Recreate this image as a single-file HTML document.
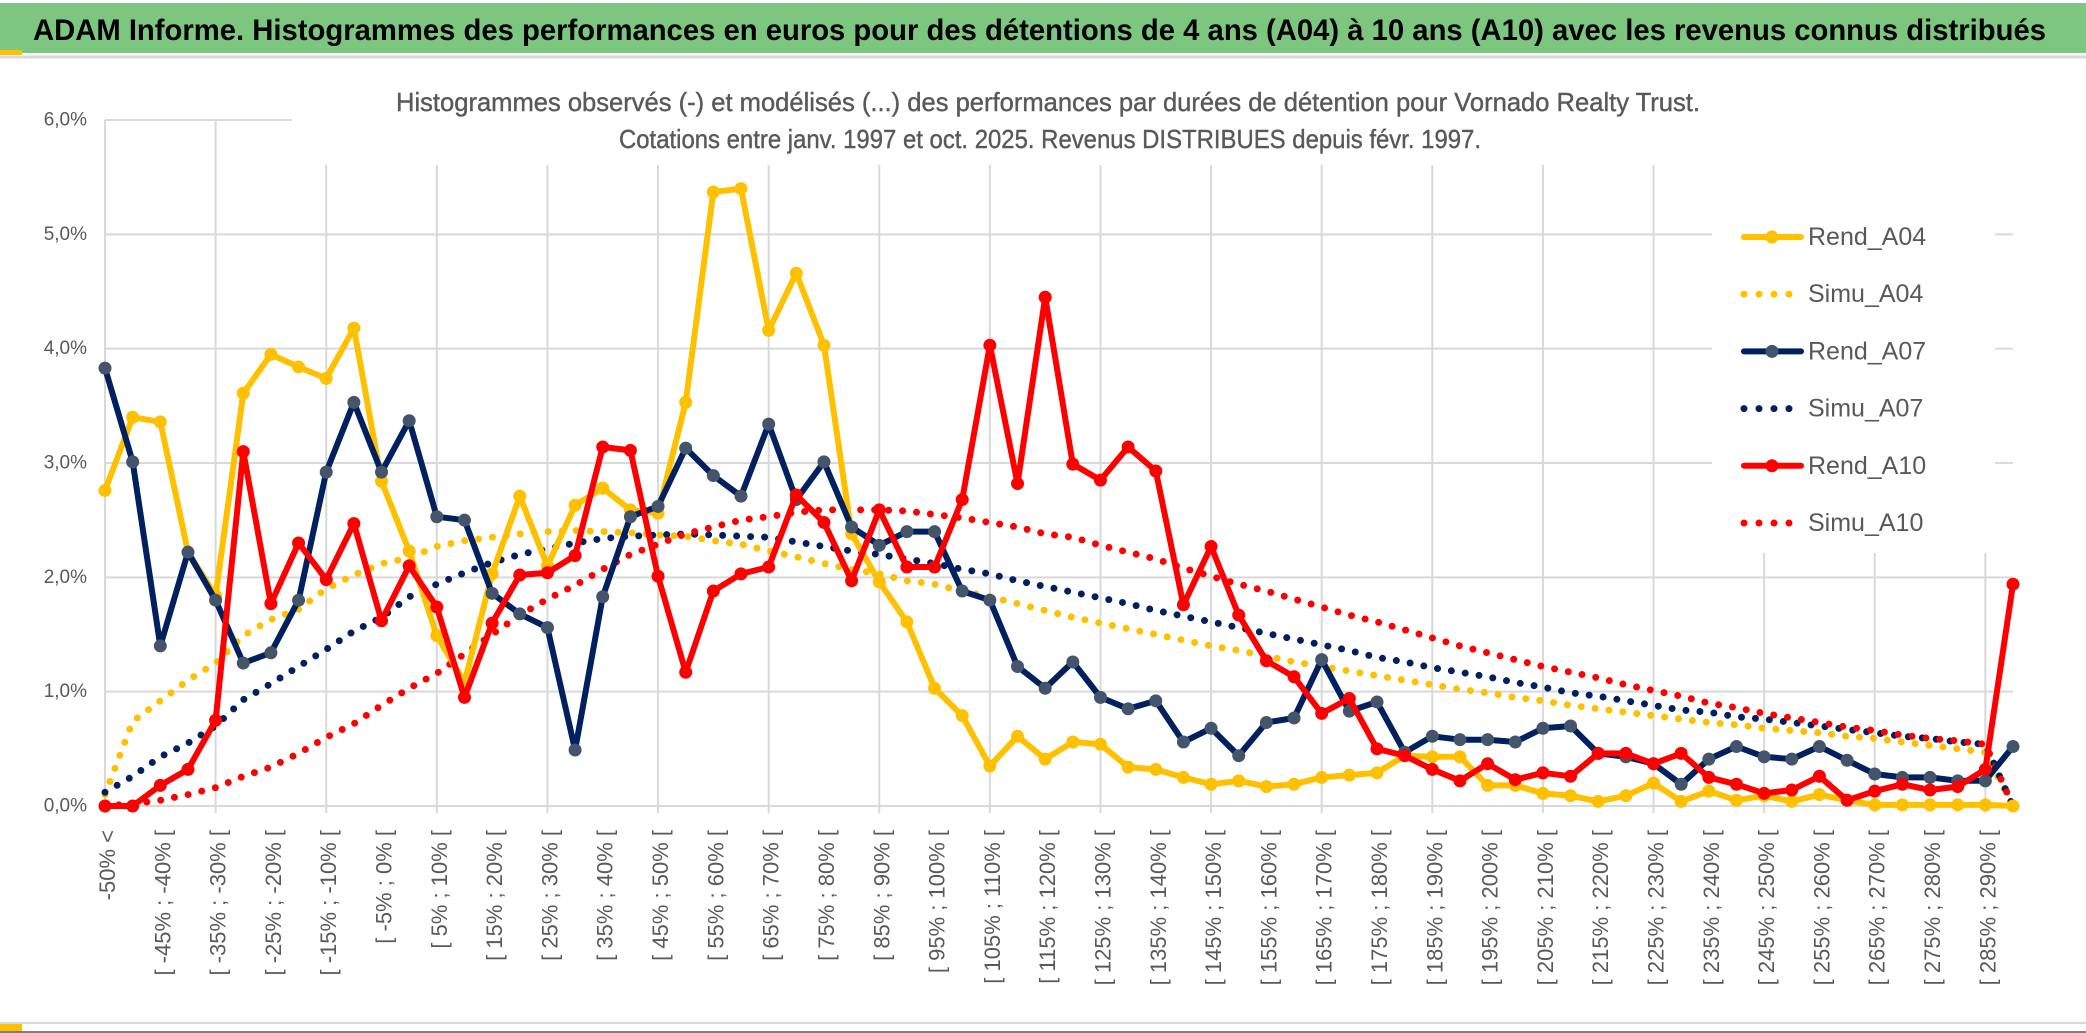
<!DOCTYPE html>
<html><head><meta charset="utf-8"><style>
html,body{margin:0;padding:0;background:#fff;}
svg{display:block;font-family:"Liberation Sans",sans-serif;}
</style></head><body>
<svg id="chart" width="2086" height="1033" viewBox="0 0 2086 1033" xmlns="http://www.w3.org/2000/svg">
<rect x="0" y="0" width="2086" height="1033" fill="#fff"/>
<rect x="0" y="3" width="2086" height="50" fill="#7dc67f"/>
<rect x="0" y="50" width="22" height="5" fill="#ffc000"/>
<line x1="0" y1="57" x2="2086" y2="57" stroke="#d9d9d9" stroke-width="3"/>
<text x="33" y="40" font-size="30" font-weight="bold" fill="#000" textLength="2013" lengthAdjust="spacingAndGlyphs">ADAM Informe. Histogrammes des performances en euros pour des détentions de 4 ans (A04) à 10 ans (A10) avec les revenus connus distribués</text>
<rect x="0" y="1022" width="2086" height="2" fill="#d9d9d9"/>
<rect x="0" y="1024" width="22" height="7" fill="#ffc000"/>
<rect x="0" y="1031" width="2086" height="2" fill="#7f7f7f"/>
<g id="grid"></g>
<rect x="292" y="95" width="1725" height="70" fill="#fff"/>
<rect x="1712" y="165" width="283" height="388" fill="#fff"/>
<text x="1048" y="102" font-size="26" fill="#595959" text-anchor="middle" dominant-baseline="central" textLength="1304" lengthAdjust="spacingAndGlyphs" stroke="#595959" stroke-width="0.4">Histogrammes observés (-) et modélisés (...) des performances par durées de détention pour Vornado Realty Trust.</text>
<text x="1050" y="139" font-size="26" fill="#595959" text-anchor="middle" dominant-baseline="central" textLength="862" lengthAdjust="spacingAndGlyphs" stroke="#595959" stroke-width="0.4">Cotations entre janv. 1997 et oct. 2025. Revenus DISTRIBUES depuis févr. 1997.</text>
<g id="axes"></g>
<g id="series"></g>
<g id="legend"></g>
</svg>
<script>
const yTicks = [0,1,2,3,4,5,6];
const rendA04 = [2.76,3.40,3.36,2.22,1.84,3.61,3.95,3.84,3.74,4.18, 2.84,2.23,1.49,1.08,2.03,2.71,2.10,2.63,2.78,2.59, 2.56,3.53,5.37,5.40,4.16,4.66,4.03,2.38,1.96,1.61, 1.03,0.79,0.35,0.61,0.41,0.56,0.54,0.34,0.32,0.25, 0.19,0.22,0.17,0.19,0.25,0.27,0.29,0.44,0.43,0.43, 0.18,0.18,0.11,0.09,0.04,0.09,0.20,0.04,0.13,0.05, 0.09,0.04,0.10,0.05,0.01,0.01,0.01,0.01,0.01,0.00];
const rendA07 = [3.83,3.01,1.40,2.22,1.80,1.25,1.34,1.80,2.92,3.53, 2.92,3.37,2.53,2.50,1.86,1.68,1.56,0.49,1.83,2.53, 2.62,3.13,2.89,2.71,3.34,2.68,3.01,2.44,2.28,2.40, 2.40,1.88,1.80,1.22,1.03,1.26,0.95,0.85,0.92,0.56, 0.68,0.44,0.73,0.77,1.28,0.83,0.91,0.47,0.61,0.58, 0.58,0.56,0.68,0.70,0.46,0.43,0.37,0.19,0.41,0.52, 0.43,0.41,0.52,0.40,0.28,0.25,0.25,0.22,0.22,0.52];
const rendA10 = [0.00,0.00,0.18,0.32,0.75,3.10,1.77,2.30,1.98,2.47, 1.62,2.10,1.74,0.95,1.60,2.02,2.04,2.19,3.14,3.11, 2.01,1.17,1.88,2.03,2.09,2.72,2.48,1.97,2.59,2.09, 2.09,2.68,4.03,2.82,4.45,2.99,2.85,3.14,2.93,1.76, 2.27,1.67,1.27,1.13,0.81,0.94,0.50,0.44,0.32,0.22, 0.37,0.23,0.29,0.26,0.46,0.46,0.37,0.46,0.25,0.19, 0.11,0.14,0.26,0.05,0.13,0.19,0.14,0.17,0.32,1.94];
const simuA04 = [0.10,0.74,0.92,1.10,1.25,1.49,1.63,1.72,1.90,2.02, 2.12,2.17,2.27,2.32,2.35,2.38,2.40,2.41,2.40,2.39, 2.37,2.36,2.32,2.29,2.23,2.18,2.12,2.07,2.03,1.97, 1.94,1.88,1.83,1.77,1.71,1.65,1.60,1.55,1.50,1.45, 1.40,1.36,1.31,1.26,1.22,1.18,1.14,1.10,1.06,1.02, 0.99,0.95,0.92,0.88,0.85,0.82,0.79,0.76,0.73,0.71, 0.68,0.66,0.64,0.61,0.59,0.56,0.53,0.50,0.47,0.00];
const simuA07 = [0.12,0.26,0.43,0.55,0.70,0.93,1.07,1.22,1.37,1.53, 1.65,1.83,1.94,2.04,2.13,2.20,2.25,2.30,2.34,2.36, 2.37,2.38,2.37,2.36,2.35,2.31,2.27,2.23,2.20,2.16, 2.12,2.07,2.03,1.97,1.92,1.87,1.82,1.77,1.71,1.66, 1.61,1.56,1.51,1.46,1.41,1.36,1.30,1.26,1.21,1.17, 1.13,1.08,1.04,0.99,0.96,0.92,0.88,0.84,0.82,0.78, 0.76,0.73,0.70,0.67,0.64,0.61,0.59,0.56,0.54,0.00];
const simuA10 = [0.00,0.02,0.05,0.10,0.16,0.26,0.34,0.46,0.60,0.72, 0.88,1.03,1.16,1.33,1.50,1.67,1.81,1.93,2.07,2.20, 2.29,2.38,2.44,2.50,2.53,2.57,2.59,2.59,2.59,2.58, 2.55,2.52,2.48,2.44,2.38,2.35,2.28,2.22,2.16,2.08, 2.01,1.94,1.88,1.81,1.74,1.67,1.61,1.54,1.47,1.40, 1.34,1.28,1.22,1.17,1.12,1.06,1.01,0.96,0.90,0.86, 0.81,0.77,0.73,0.69,0.66,0.62,0.59,0.57,0.54,0.00];
const seriesNames = ["Rend_A04","Simu_A04","Rend_A07","Simu_A07","Rend_A10","Simu_A10"];
const categories = [];
for (let i = 0; i < rendA04.length; i++) categories.push(i === 0 ? "-50% <" : "[ " + (5*i-55) + "% ; " + (5*i-50) + "% [");

const NS = "http://www.w3.org/2000/svg";
const X0 = 105, X1 = 2013, Y0 = 806, YMAX = 6, PXPER = (806-120)/6;
const n = categories.length;
function xs(i){ return X0 + i*(X1-X0)/(n-1); }
function ys(v){ return Y0 - v*PXPER; }
function mk(tag, attrs, parent){ const e=document.createElementNS(NS,tag); for(const k in attrs) e.setAttribute(k,attrs[k]); parent.appendChild(e); return e; }

const grid = document.getElementById('grid');
yTicks.forEach(t => {
  const l = mk('line',{x1:X0,x2:X1,y1:ys(t),y2:ys(t),stroke:'#d9d9d9','stroke-width':2},grid);
  
  
});
for (let i = 0; i < n; i += 4) {
  const l = mk('line',{x1:xs(i),x2:xs(i),y1:ys(YMAX),y2:Y0+7,stroke:'#d9d9d9','stroke-width':2},grid);
  
  
}
const axes = document.getElementById('axes');
yTicks.forEach(t => {
  const tx = mk('text',{x:87,y:ys(t),'font-size':19,fill:'#595959','text-anchor':'end','dominant-baseline':'central'},axes);
  tx.textContent = t.toFixed(1).replace('.',',') + '%';
  
  
});
for (let i = 0; i < n; i += 2) {
  const bx = xs(i) + 10;
  const tx = mk('text',{x:bx,y:830,'font-size':22,fill:'#595959','text-anchor':'end',transform:'rotate(-90 '+bx+' 830)'},axes);
  tx.textContent = categories[i];
  
  
}
const sg = document.getElementById('series');
function pts(arr){ return arr.map((v,i)=>xs(i).toFixed(1)+','+ys(v).toFixed(1)).join(' '); }
function simu(arr,color,name){
  const p = mk('polyline',{points:pts(arr),fill:'none',stroke:color,'stroke-width':7,'stroke-linecap':'round','stroke-dasharray':'0 14'},sg);
  
  
}
function rend(arr,color,mcolor,name){
  const p = mk('polyline',{points:pts(arr),fill:'none',stroke:color,'stroke-width':6,'stroke-linejoin':'round'},sg);
  
  
  arr.forEach((v,i)=>{
    const c = mk('circle',{cx:xs(i),cy:ys(v),r:6.5,fill:mcolor},sg);
    
    
  });
}
simu(simuA04,'#ffc000','simu-a04-line');
simu(simuA07,'#002060','simu-a07-line');
simu(simuA10,'#ff0000','simu-a10-line');
rend(rendA04,'#ffc000','#ffc000','rend-a04-line');
rend(rendA07,'#002060','#44546a','rend-a07-line');
rend(rendA10,'#ff0000','#ff0000','rend-a10-line');

const lg = document.getElementById('legend');
const legColors = ['#ffc000','#ffc000','#002060','#002060','#ff0000','#ff0000'];
const legMarker = ['#ffc000','#ffc000','#44546a','#44546a','#ff0000','#ff0000'];
seriesNames.forEach((nm,k)=>{
  const y = 237 + k*57.2;
  const g = mk('g',{},lg);
  
  
  if (nm.startsWith('Rend')) {
    mk('line',{x1:1744,x2:1801,y1:y,y2:y,stroke:legColors[k],'stroke-width':6,'stroke-linecap':'round'},g);
    mk('circle',{cx:1772,cy:y,r:6.5,fill:legMarker[k]},g);
  } else {
    mk('line',{x1:1744,x2:1795,y1:y,y2:y,stroke:legColors[k],'stroke-width':7,'stroke-linecap':'round','stroke-dasharray':'0 15'},g);
  }
  const t = mk('text',{x:1808,y:y,'font-size':25,fill:'#595959','dominant-baseline':'central'},g);
  t.textContent = nm;
});
</script>
</body></html>
